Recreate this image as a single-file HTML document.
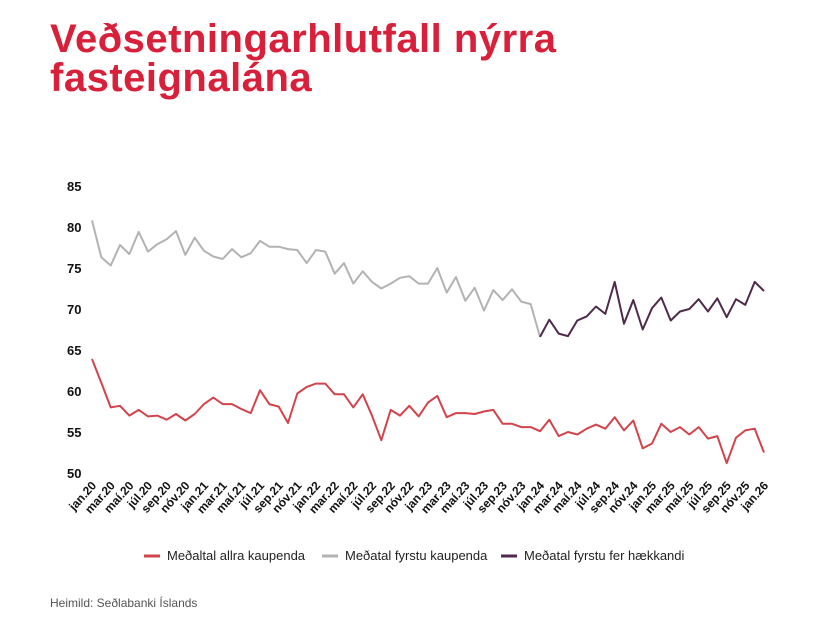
<!DOCTYPE html>
<html><head><meta charset="utf-8"><style>
body{margin:0;background:#fff;width:827px;height:618px;overflow:hidden;font-family:"Liberation Sans",sans-serif}
h1{position:absolute;left:50px;top:20px;margin:0;font-size:40px;line-height:39px;font-weight:bold;color:#d8203a;letter-spacing:0.5px}
.src{position:absolute;left:50px;top:596px;font-size:12px;color:#555}
</style></head><body>
<h1>Veðsetningarhlutfall nýrra<br>fasteignalána</h1>
<svg id="chart" width="827" height="618" style="position:absolute;left:0;top:0"></svg>
<div class="src">Heimild: Seðlabanki Íslands</div>
<script>
const months=["jan","feb","mar","apr","maí","jún","júl","ágú","sep","okt","nóv","des"];
const yTicks=[50,55,60,65,70,75,80,85];
const allBuyers=[63.9,61.0,58.0,58.2,57.0,57.7,56.9,57.0,56.5,57.2,56.4,57.2,58.4,59.2,58.4,58.4,57.8,57.3,60.1,58.4,58.1,56.1,59.7,60.5,60.9,60.9,59.6,59.6,58.0,59.6,57.0,54.0,57.7,57.0,58.2,56.9,58.6,59.4,56.8,57.3,57.3,57.2,57.5,57.7,56.0,56.0,55.6,55.6,55.1,56.5,54.5,55.0,54.7,55.4,55.9,55.4,56.8,55.2,56.4,53.0,53.6,56.0,55.0,55.6,54.7,55.6,54.2,54.5,51.2,54.3,55.2,55.4,52.5];
const firstBuyers=[80.8,76.3,75.3,77.8,76.7,79.4,77.0,77.9,78.5,79.5,76.6,78.7,77.1,76.4,76.1,77.3,76.3,76.8,78.3,77.6,77.6,77.3,77.2,75.6,77.2,77.0,74.3,75.6,73.1,74.6,73.3,72.5,73.1,73.8,74.0,73.1,73.1,75.0,72.0,73.9,71.0,72.6,69.8,72.3,71.1,72.4,70.9,70.6,66.6];
const firstStart=0;
const upsizers=[66.6,68.7,67.0,66.7,68.6,69.1,70.3,69.4,73.3,68.2,71.1,67.5,70.1,71.4,68.6,69.7,70.0,71.2,69.7,71.3,69.0,71.2,70.5,73.3,72.2];
const upStart=48;
const seriesNames=["Meðaltal allra kaupenda","Meðatal fyrstu kaupenda","Meðatal fyrstu fer hækkandi"];
const colors=["#d2444b","#b3b3b3","#4f2a4a"];
const NS="http://www.w3.org/2000/svg";
const svg=document.getElementById('chart');
const N=73;
const xS=i=>92+i*(764-92)/(N-1);
const yS=v=>473-(v-50)*8.2;
function el(t,a,p){const e=document.createElementNS(NS,t);for(const k in a)e.setAttribute(k,a[k]);(p||svg).appendChild(e);return e;}
yTicks.forEach(v=>{
 const t=el('text',{x:67,y:yS(v)+5,'font-size':13,fill:'#111','font-weight':'bold'});t.textContent=v;
 
 
});
for(let i=0;i<N;i+=2){
 const yr=20+Math.floor(i/12);
 const lbl=months[i%12]+"."+yr;
 const x=xS(i)+5,y=486;
 const t=el('text',{x:x,y:y,'font-size':12,fill:'#111','font-weight':'bold','text-anchor':'end',transform:`rotate(-48 ${x} ${y})`});
 t.textContent=lbl;
 
 
}
function line(data,start,c,name){
 const d=data.map((v,i)=>(i?'L':'M')+xS(start+i).toFixed(1)+' '+yS(v).toFixed(1)).join(' ');
 const p=el('path',{d:d,fill:'none',stroke:c,'stroke-width':2,'stroke-linejoin':'round'});
 
 
}
line(firstBuyers,firstStart,colors[1],'series-first-buyers');
line(upsizers,upStart,colors[2],'series-upsizers');
line(allBuyers,0,colors[0],'series-all-buyers');
const lx=[144,322,501];
seriesNames.forEach((n,k)=>{
 const g=el('g',{});
 
 
 el('line',{x1:lx[k],x2:lx[k]+16,y1:556,y2:556,stroke:colors[k],'stroke-width':3},g);
 const t=el('text',{x:lx[k]+23,y:560,'font-size':13,fill:'#222'},g);t.textContent=n;
});
</script>
</body></html>
